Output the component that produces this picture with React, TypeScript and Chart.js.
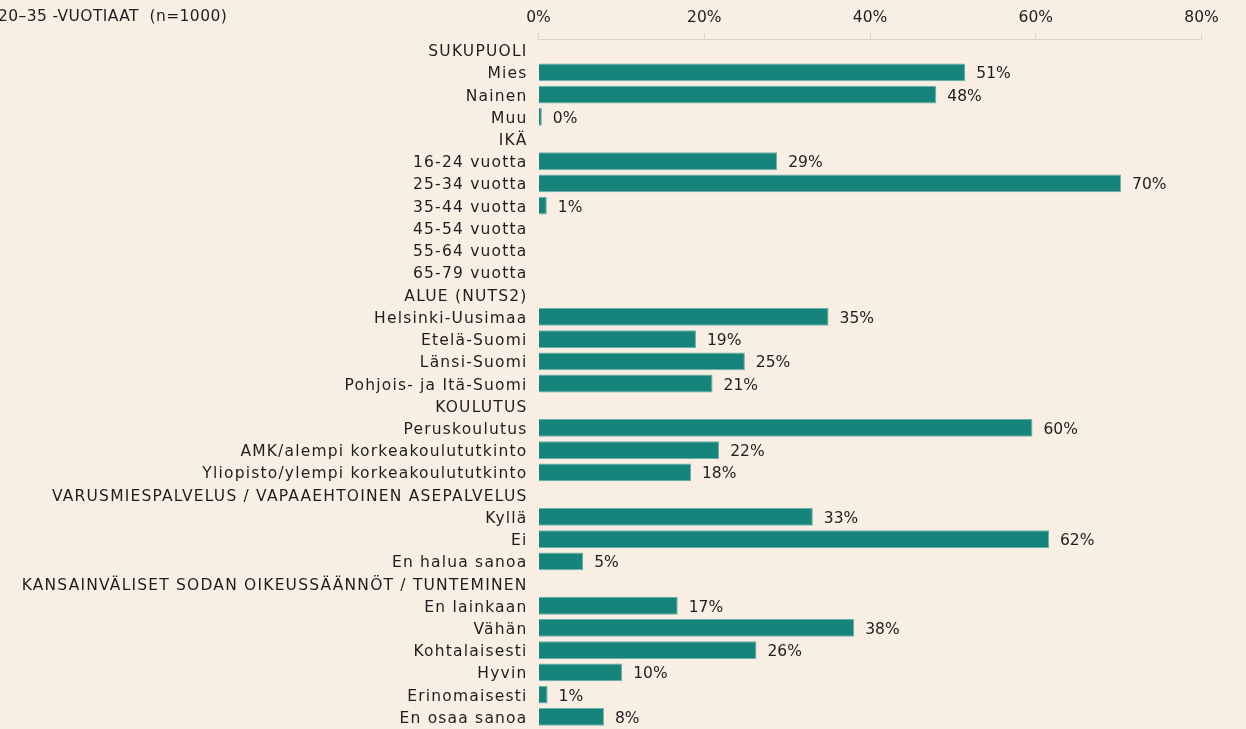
import React, { useEffect, useRef } from "react";
import { Chart, registerables } from "chart.js";

Chart.register(...registerables);

const title = "20–35 -VUOTIAAT  (n=1000)";

const categories: string[] = [
  "SUKUPUOLI",
  "Mies",
  "Nainen",
  "Muu",
  "IKÄ",
  "16-24 vuotta",
  "25-34 vuotta",
  "35-44 vuotta",
  "45-54 vuotta",
  "55-64 vuotta",
  "65-79 vuotta",
  "ALUE (NUTS2)",
  "Helsinki-Uusimaa",
  "Etelä-Suomi",
  "Länsi-Suomi",
  "Pohjois- ja Itä-Suomi",
  "KOULUTUS",
  "Peruskoulutus",
  "AMK/alempi korkeakoulututkinto",
  "Yliopisto/ylempi korkeakoulututkinto",
  "VARUSMIESPALVELUS / VAPAAEHTOINEN ASEPALVELUS",
  "Kyllä",
  "Ei",
  "En halua sanoa",
  "KANSAINVÄLISET SODAN OIKEUSSÄÄNNÖT / TUNTEMINEN",
  "En lainkaan",
  "Vähän",
  "Kohtalaisesti",
  "Hyvin",
  "Erinomaisesti",
  "En osaa sanoa",
];

const values: (number | null)[] = [
  null, 51.5, 48.0, 0.4,
  null, 28.8, 70.3, 1.0, null, null, null,
  null, 35.0, 19.0, 24.9, 21.0,
  null, 59.6, 21.8, 18.4,
  null, 33.1, 61.6, 5.4,
  null, 16.8, 38.1, 26.3, 10.1, 1.1, 7.9,
];

const valueLabels: (string | null)[] = [
  null, "51%", "48%", "0%",
  null, "29%", "70%", "1%", null, null, null,
  null, "35%", "19%", "25%", "21%",
  null, "60%", "22%", "18%",
  null, "33%", "62%", "5%",
  null, "17%", "38%", "26%", "10%", "1%", "8%",
];

const xTicks: number[] = [0, 20, 40, 60, 80];

const FONT_FAMILY = "'DejaVu Sans', sans-serif";
const FONT_SIZE = 15.5;
const TEXT = "#1e1e1e";
const BG = "#F8EEE4";

export default function App() {
  const ref = useRef<HTMLCanvasElement | null>(null);

  useEffect(() => {
    document.body.style.margin = "0";
    document.body.style.background = BG;
    const canvas = ref.current;
    if (!canvas) return;

    const bgPlugin = {
      id: "bgPlugin",
      beforeDraw(chart: any) {
        const ctx = chart.ctx;
        ctx.fillStyle = BG;
        ctx.fillRect(0, 0, chart.width, chart.height);
        (ctx as any).letterSpacing = "0px";
      },
    };

    const labelPlugin = {
      id: "labelPlugin",
      afterDatasetsDraw(chart: any) {
        const ctx = chart.ctx;
        const meta = chart.getDatasetMeta(0);
        ctx.save();
        (ctx as any).letterSpacing = "0px";
        ctx.font = `${FONT_SIZE}px ${FONT_FAMILY}`;
        ctx.fillStyle = TEXT;
        ctx.textAlign = "left";
        ctx.textBaseline = "middle";
        meta.data.forEach((bar: any, i: number) => {
          const lbl = valueLabels[i];
          if (lbl == null || values[i] == null) return;
          ctx.fillText(lbl, bar.x + 11, bar.y + 2);
        });
        ctx.restore();
        // wider spacing for the category labels drawn next (y ticks, z = 1)
        (ctx as any).letterSpacing = "1.2px";
      },
      afterDraw(chart: any) {
        const ctx = chart.ctx;
        ctx.save();
        (ctx as any).letterSpacing = "0.4px";
        ctx.font = `${FONT_SIZE}px ${FONT_FAMILY}`;
        ctx.fillStyle = TEXT;
        ctx.textAlign = "left";
        ctx.textBaseline = "middle";
        ctx.fillText(title, -2, 17);
        ctx.restore();
        (ctx as any).letterSpacing = "0px";
      },
    };

    const chart = new Chart(canvas, {
      type: "bar",
      data: {
        labels: categories,
        datasets: [
          {
            data: values as any,
            backgroundColor: "#17847B",
            borderColor: "#6BAFA6",
            borderWidth: 1,
            barPercentage: 0.8,
            categoryPercentage: 1,
          },
        ],
      },
      options: {
        indexAxis: "y",
        animation: false,
        responsive: false,
        maintainAspectRatio: false,
        devicePixelRatio: 1,
        layout: { autoPadding: false, padding: { left: 0, right: 44.5, top: 0, bottom: 1 } },
        plugins: {
          legend: { display: false },
          tooltip: { enabled: false },
          title: { display: false },
        },
        scales: {
          x: {
            position: "top",
            min: 0,
            max: 80,
            afterFit(scale: any) {
              scale.height = 39;
              scale.paddingLeft = 0;
              scale.paddingRight = 0;
            },
            afterBuildTicks(scale: any) {
              scale.ticks = xTicks.map((v) => ({ value: v }));
            },
            ticks: {
              padding: 6,
              color: TEXT,
              font: { family: FONT_FAMILY, size: FONT_SIZE },
              callback: (v: any) => `${v}%`,
            },
            grid: {
              drawOnChartArea: false,
              drawTicks: true,
              tickLength: 6,
              color: "#D9D6D2",
            },
            border: { display: true, color: "#D9D6D2" },
          },
          y: {
            afterFit(scale: any) {
              scale.width = 538.5;
              scale.paddingTop = 0;
              scale.paddingBottom = 0;
            },
            ticks: {
              z: 1,
              padding: 11,
              labelOffset: 2,
              color: TEXT,
              font: { family: FONT_FAMILY, size: FONT_SIZE },
              autoSkip: false,
            },
            grid: { display: false, drawTicks: false },
            border: { display: false },
          },
        },
      },
      plugins: [bgPlugin, labelPlugin],
    });

    return () => chart.destroy();
  }, []);

  return (
    <div style={{ position: "fixed", left: 0, top: 0, width: 1246, height: 729, background: BG }}>
      <canvas ref={ref} width={1246} height={729} style={{ display: "block", width: 1246, height: 729 }} />
    </div>
  );
}
